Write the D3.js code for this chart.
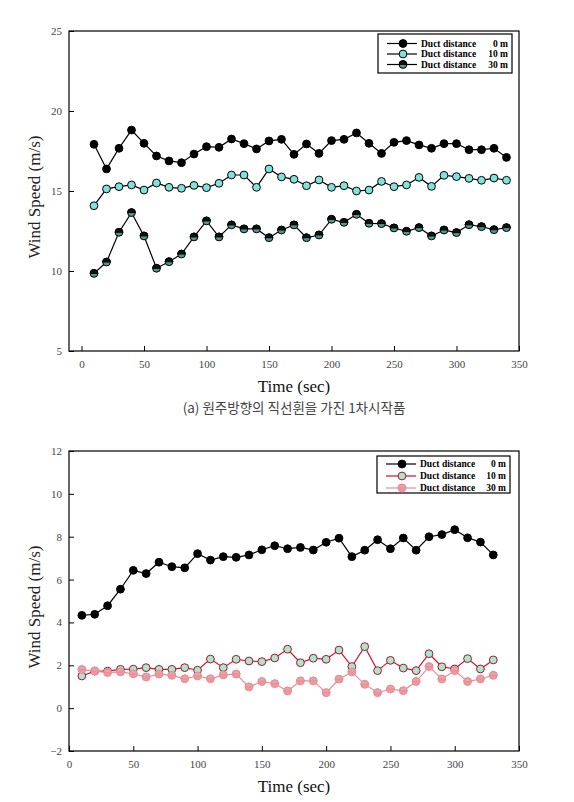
<!DOCTYPE html>
<html><head><meta charset="utf-8">
<script src="https://cdn.jsdelivr.net/npm/d3@7"></script>
<style>body{margin:0;background:#fff}svg{display:block}</style>
</head><body>
<svg id="c" width="574" height="802"></svg>
<script>
// ---- data ----
const timeA = d3.range(10, 341, 10);
const a0m = [17.92,16.38,17.67,18.81,17.98,17.19,16.88,16.77,17.31,17.77,17.73,18.25,17.96,17.63,18.13,18.23,17.29,17.94,17.35,18.15,18.23,18.63,17.98,17.35,18.04,18.15,17.88,17.67,17.96,17.96,17.58,17.58,17.67,17.10];
const a10m = [14.08,15.13,15.27,15.38,15.06,15.50,15.23,15.17,15.35,15.21,15.48,16.00,16.00,15.23,16.38,15.88,15.73,15.33,15.69,15.23,15.33,15.00,15.06,15.60,15.27,15.38,15.85,15.29,15.98,15.90,15.79,15.67,15.81,15.67];
const a30m = [9.85,10.56,12.42,13.65,12.19,10.17,10.58,11.06,12.13,13.13,12.13,12.88,12.63,12.63,12.08,12.56,12.88,12.08,12.25,13.23,13.04,13.54,12.98,12.96,12.69,12.48,12.71,12.19,12.56,12.40,12.89,12.77,12.58,12.71];
const timeB = d3.range(10, 331, 10);
const b0m = [4.33,4.38,4.78,5.55,6.43,6.28,6.81,6.60,6.55,7.21,6.91,7.07,7.04,7.15,7.39,7.58,7.44,7.50,7.38,7.74,7.93,7.07,7.37,7.86,7.44,7.94,7.37,8.00,8.10,8.33,7.95,7.75,7.15];
const b10m = [1.50,1.73,1.73,1.81,1.82,1.89,1.81,1.81,1.89,1.77,2.29,1.89,2.28,2.20,2.17,2.34,2.75,2.12,2.33,2.28,2.71,1.94,2.87,1.75,2.23,1.87,1.75,2.54,1.93,1.83,2.31,1.83,2.25];
const b30m = [1.80,1.73,1.66,1.69,1.60,1.45,1.59,1.53,1.37,1.50,1.37,1.55,1.59,0.99,1.24,1.14,0.80,1.27,1.27,0.72,1.35,1.69,1.11,0.72,0.89,0.81,1.24,1.94,1.36,1.75,1.24,1.36,1.53];
const xTicksA = [0,50,100,150,200,250,300,350];
const yTicksA = [5,10,15,20,25];
const xTicksB = [0,50,100,150,200,250,300,350];
const yTicksB = [-2,0,2,4,6,8,10,12];
const legendLabels = ["0 m","10 m","30 m"];
const caption = "(a) 원주방향의 직선휜을 가진 1차시작품";

const svg = d3.select("#c");
const serif = "'Liberation Serif','DejaVu Serif',serif";

function panel(o){
  const g = svg.append("g");
  const x = d3.scaleLinear().domain(o.xd).range([69,519]);
  const y = d3.scaleLinear().domain(o.yd).range([o.bottom,o.top]);
  g.append("rect").attr("x",69).attr("y",o.top).attr("width",450).attr("height",o.bottom-o.top)
    .attr("fill","none").attr("stroke","#000").attr("stroke-width",1.2);
  const xa = g.append("g").attr("transform",`translate(0,${o.bottom})`)
    .call(d3.axisBottom(x).tickValues(o.xt).tickSizeInner(-5).tickSizeOuter(0).tickPadding(9));
  const ya = g.append("g").attr("transform",`translate(69,0)`)
    .call(d3.axisLeft(y).tickValues(o.yt).tickSizeInner(-5).tickSizeOuter(0).tickPadding(7));
  [xa,ya].forEach(a=>{
    a.select(".domain").remove();
    a.selectAll("line").attr("stroke","#000");
    a.selectAll("text").attr("font-family",serif).attr("font-size",11).attr("fill","#444");
  });
  g.append("text").attr("x",294).attr("y",o.bottom+41).attr("text-anchor","middle")
    .attr("font-family",serif).attr("font-size",17).attr("fill","#111").text("Time (sec)");
  g.append("text").attr("transform",`translate(40,${(o.top+o.bottom)/2+6}) rotate(-90)`)
    .attr("text-anchor","middle").attr("font-family",serif).attr("font-size",17).attr("fill","#222")
    .text("Wind Speed (m/s)");
  o.series.forEach(s=>{
    const line = d3.line().x((d,i)=>x(o.t[i])).y(d=>y(d));
    g.append("path").datum(s.v).attr("d",line).attr("fill","none").attr("stroke",s.line).attr("stroke-width",1.2);
    s.v.forEach((d,i)=>marker(g,x(o.t[i]),y(d),s));
  });
  const L = o.legend;
  g.append("rect").attr("x",L.x).attr("y",L.y).attr("width",L.w).attr("height",L.h)
    .attr("fill","#fff").attr("stroke","#000").attr("stroke-width",1.2);
  o.series.forEach((s,i)=>{
    const yy = L.y + L.r0 + i*L.dy;
    g.append("line").attr("x1",L.x+9).attr("x2",L.x+39).attr("y1",yy).attr("y2",yy).attr("stroke",s.line).attr("stroke-width",1.2);
    marker(g,L.x+25,yy,s);
    g.append("text").attr("x",L.x+43).attr("y",yy+3).attr("font-family",serif).attr("font-weight","bold")
      .attr("font-size",9.5).attr("fill","#000").text("Duct distance");
    g.append("text").attr("x",L.x+L.w-4).attr("y",yy+3).attr("text-anchor","end").attr("font-family",serif).attr("font-weight","bold")
      .attr("font-size",9.5).attr("fill","#000").text(legendLabels[i]);
  });
}
function marker(g,cx,cy,s){
  const r = 3.9;
  g.append("circle").attr("cx",cx).attr("cy",cy).attr("r",r).attr("fill",s.fill).attr("stroke",s.stroke).attr("stroke-width",1);
  if(s.cap){
    g.append("path").attr("d",`M${cx-r},${cy} A${r},${r} 0 0 1 ${cx+r},${cy} Z`).attr("fill",s.cap).attr("stroke",s.stroke).attr("stroke-width",1);
  }
}

panel({xd:[-10,350], yd:[5,25], top:31, bottom:351, xt:xTicksA, yt:yTicksA, t:timeA,
  series:[
    {v:a0m, line:"#000", fill:"#000", stroke:"#000"},
    {v:a10m, line:"#000", fill:"#7fe3dc", stroke:"#000"},
    {v:a30m, line:"#000", fill:"#4f9a90", stroke:"#000", cap:"#111"}
  ],
  legend:{x:378,y:34,w:134,h:39,r0:9.5,dy:10.5}
});
panel({xd:[0,350], yd:[-2,12], top:451, bottom:751, xt:xTicksB, yt:yTicksB, t:timeB,
  series:[
    {v:b0m, line:"#000", fill:"#000", stroke:"#000"},
    {v:b10m, line:"#d4102c", fill:"#a6e8cf", stroke:"#b0102a"},
    {v:b30m, line:"#f28a94", fill:"#f2969e", stroke:"#ee8a94", cap:"#d6aab0"}
  ],
  legend:{x:377,y:456,w:133,h:37,r0:8,dy:12}
});
svg.append("text").attr("x",294).attr("y",413).attr("text-anchor","middle")
  .attr("font-family","'Noto Sans CJK KR',sans-serif").attr("font-size",13.5).attr("fill","#444").text(caption);
</script>
</body></html>
